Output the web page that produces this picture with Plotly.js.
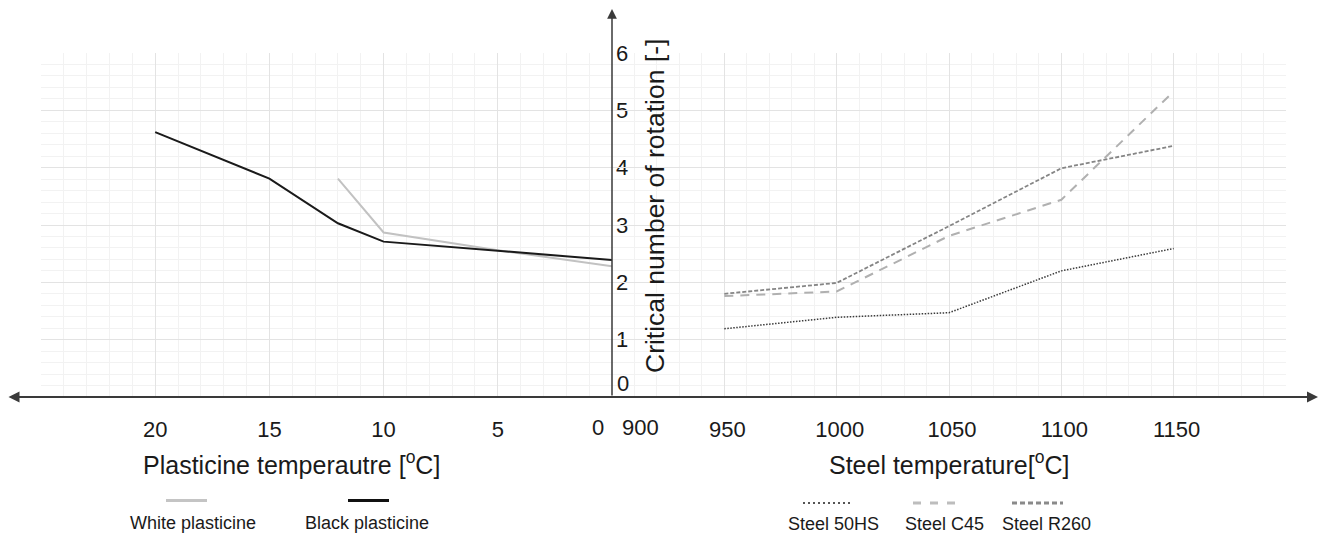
<!DOCTYPE html>
<html>
<head>
<meta charset="utf-8">
<script src="https://cdn.plot.ly/plotly-3.0.1.min.js"></script>
<style>html,body{margin:0;padding:0;background:#fff;}#chart{width:1325px;height:535px;}</style>
</head>
<body>
<div id="chart"></div>
<script>
// ---- data ----
var whiteTemp = [12, 10, 5, 0];
var whiteRot = [3.81, 2.87, 2.56, 2.28];
var blackTemp = [20, 15, 12, 10, 0];
var blackRot = [4.62, 3.81, 3.03, 2.71, 2.39];
var steelTemp = [950, 1000, 1050, 1100, 1150];
var steel50HS = [1.19, 1.39, 1.47, 2.20, 2.59];
var steelC45 = [1.76, 1.84, 2.81, 3.44, 5.33];
var steelR260 = [1.80, 1.99, 2.98, 3.99, 4.38];
var plastTickVals = [25, 20, 15, 10, 5, 0];
var plastTickText = ['', '20', '15', '10', '5', ''];
var steelTickVals = [900, 950, 1000, 1050, 1100, 1150, 1200];
var steelTickText = ['', '950', '1000', '1050', '1100', '1150', ''];
var rotTickVals = [1, 2, 3, 4, 5, 6];

// ---- layout geometry (pixels) ----
var W = 1325, H = 535, L = 41, R = 1286, T = 53, B = 397;
function px(x) { return (x - L) / (R - L); }
function py(y) { return (B - y) / (B - T); }
var split = px(612);
var FONT = 'Liberation Sans, Arial, sans-serif';
var TXT = '#1a1a1a';

var traces = [
  {x: whiteTemp, y: whiteRot, xaxis: 'x', yaxis: 'y', mode: 'lines', name: 'White plasticine',
   line: {color: '#c2c2c2', width: 2}},
  {x: blackTemp, y: blackRot, xaxis: 'x', yaxis: 'y', mode: 'lines', name: 'Black plasticine',
   line: {color: '#1a1a1a', width: 2}},
  {x: steelTemp, y: steel50HS, xaxis: 'x2', yaxis: 'y', mode: 'lines', name: 'Steel 50HS',
   line: {color: '#3a3a3a', width: 1.5, dash: '1.5px,1.5px'}},
  {x: steelTemp, y: steelC45, xaxis: 'x2', yaxis: 'y', mode: 'lines', name: 'Steel C45',
   line: {color: '#b0b0b0', width: 2, dash: '9px,7px'}},
  {x: steelTemp, y: steelR260, xaxis: 'x2', yaxis: 'y', mode: 'lines', name: 'Steel R260',
   line: {color: '#858585', width: 1.8, dash: '4px,2px'}}
];

var gridMajor = '#e3e3e3', gridMinor = '#f2f2f2';
var tickFont = {family: FONT, size: 22, color: TXT};

var annotations = [];
function txt(t, x, y, size, opts) {
  var a = {text: t, x: px(x), y: py(y), xref: 'paper', yref: 'paper', showarrow: false,
           xanchor: 'center', yanchor: 'middle', font: {family: FONT, size: size, color: TXT}};
  for (var k in (opts || {})) a[k] = opts[k];
  annotations.push(a);
}
// special tick labels
txt('0', 598, 427, 22);
txt('900', 640, 427, 22);
txt('0', 615, 383, 22, {xanchor: 'left'});
// axis titles
txt('Plasticine temperautre [<sup>o</sup>C]', 291, 463, 25);
txt('Steel temperature[<sup>o</sup>C]', 949, 463, 25);
txt('Critical number of rotation [-]', 655, 206, 26.5, {textangle: -90});
// legend texts
txt('White plasticine', 193, 523, 18);
txt('Black plasticine', 367, 523, 18);
txt('Steel 50HS', 833, 524, 18);
txt('Steel C45', 944, 524, 18);
txt('Steel R260', 1046, 524, 18);
// axis arrows
annotations.push({x: px(1318), y: py(397), xref: 'paper', yref: 'paper', ax: -(1318 - 7), ay: 0,
  showarrow: true, arrowside: 'end+start', arrowhead: 2, arrowsize: 1.1, arrowwidth: 2,
  arrowcolor: '#3a3a3a', text: ''});
annotations.push({x: px(612), y: py(9), xref: 'paper', yref: 'paper', ax: 0, ay: 388,
  showarrow: true, arrowhead: 2, arrowsize: 1.3, arrowwidth: 1.5, arrowcolor: '#3a3a3a', text: ''});

function legLine(x0, x1, y, color, width, dash) {
  return {type: 'line', xref: 'paper', yref: 'paper', x0: px(x0), x1: px(x1), y0: py(y), y1: py(y),
          line: {color: color, width: width, dash: dash || 'solid'}};
}
var shapes = [
  legLine(166, 207, 500.5, '#c4c4c4', 3),
  legLine(348, 389, 500.5, '#111111', 3),
  legLine(803, 852, 503, '#555555', 2, '2px,3px'),
  legLine(913, 962, 503, '#bdbdbd', 3, '8px,9px'),
  legLine(1012, 1063, 503, '#8a8a8a', 3, '5px,3px')
];

var layout = {
  width: W, height: H,
  margin: {l: L, r: W - R, t: T, b: H - B, pad: 0},
  paper_bgcolor: '#ffffff', plot_bgcolor: '#ffffff',
  showlegend: false,
  font: {family: FONT, color: TXT},
  xaxis: {domain: [0, split], range: [25, 0], anchor: 'y', tickmode: 'array',
          tickvals: plastTickVals, ticktext: plastTickText, tickfont: tickFont,
          showgrid: true, gridcolor: gridMajor, gridwidth: 1, zeroline: false, showline: false,
          ticks: '', ticklabelstandoff: 17,
          minor: {dtick: 1, showgrid: true, gridcolor: gridMinor, gridwidth: 1}},
  xaxis2: {domain: [split, 1], range: [900, 1200], anchor: 'y', tickmode: 'array',
           tickvals: steelTickVals, ticktext: steelTickText, tickfont: tickFont,
           showgrid: true, gridcolor: gridMajor, gridwidth: 1, zeroline: false, showline: false,
           ticks: '', ticklabelstandoff: 17, ticklabelshift: 3,
           minor: {dtick: 10, showgrid: true, gridcolor: gridMinor, gridwidth: 1}},
  yaxis: {domain: [0, 1], range: [0, 6], anchor: 'free', position: split, side: 'right',
          tickmode: 'array', tickvals: rotTickVals, tickfont: tickFont,
          showgrid: true, gridcolor: gridMajor, gridwidth: 1, zeroline: false, showline: false,
          ticks: '', ticklabelstandoff: 3,
          minor: {dtick: 0.2, showgrid: true, gridcolor: gridMinor, gridwidth: 1}},
  annotations: annotations,
  shapes: shapes
};

Plotly.newPlot('chart', traces, layout, {displayModeBar: false, staticPlot: true});
</script>
</body>
</html>
